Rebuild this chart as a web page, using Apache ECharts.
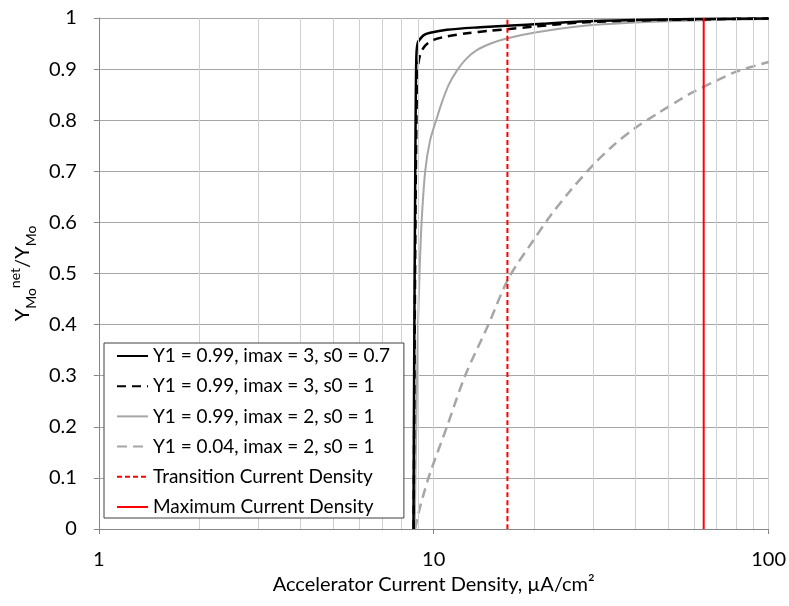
<!DOCTYPE html>
<html>
<head>
<meta charset="utf-8">
<script src="https://cdn.jsdelivr.net/npm/echarts@6/dist/echarts.min.js"></script>
<style>
html,body{margin:0;padding:0;background:#fff;}
#chart{width:789px;height:606px;}
</style>
</head>
<body>
<div id="chart"></div>
<script>
// ---- data ----
const seriesNames = [
  'Y1 = 0.99, imax = 3, s0 = 0.7',
  'Y1 = 0.99, imax = 3, s0 = 1',
  'Y1 = 0.99, imax = 2, s0 = 1',
  'Y1 = 0.04, imax = 2, s0 = 1',
  'Transition Current Density',
  'Maximum Current Density'
];
const blackSolid = [[8.70,0],[8.74,0.3],[8.79,0.6],[8.83,0.8],[8.86,0.9],[8.89,0.935],[8.95,0.95],[9.01,0.955],[9.32,0.966],[9.76,0.971],[10.95,0.977],[13.76,0.982],[16.5,0.985],[21.7,0.989],[27.3,0.993],[40,0.996],[60,0.998],[100,0.999]];
const blackDashed = [[8.71,0],[8.76,0.3],[8.82,0.6],[8.88,0.8],[8.93,0.88],[8.98,0.906],[9.12,0.929],[9.43,0.946],[9.99,0.957],[10.95,0.964],[12.56,0.970],[14.73,0.975],[16.5,0.978],[19.8,0.983],[27.3,0.991],[40,0.995],[60,0.997],[100,0.999]];
const graySolid = [[8.78,0],[8.82,0.1],[8.87,0.2],[8.92,0.3],[8.98,0.4],[9.07,0.5],[9.2,0.6],[9.43,0.7],[9.75,0.76],[10.17,0.8],[10.58,0.835],[11.1,0.87],[11.73,0.897],[12.5,0.92],[13.45,0.937],[14.8,0.95],[16.5,0.96],[20.3,0.972],[27.3,0.984],[40,0.991],[60,0.995],[100,0.998]];
const grayDashed = [[8.8,0],[9.0,0.03],[9.3,0.065],[9.76,0.11],[10.95,0.2],[12.41,0.3],[14.57,0.4],[16.71,0.49],[19.85,0.565],[22.25,0.612],[25.5,0.661],[29.9,0.712],[34.3,0.75],[40,0.785],[46.3,0.812],[54.3,0.84],[59.4,0.855],[68.2,0.874],[80,0.895],[100,0.914]];
const transitionX = 16.6;
const maximumX = 64;
const yRange = [0, 1];
const xMinorTicks = [2,3,4,5,6,7,8,9,20,30,40,50,60,70,80,90];

const FONT = 'Lato';
const FS = 20;
const chart = echarts.init(document.getElementById('chart'));

const lineSeries = (name, data, color, width, type) => ({
  name, type: 'line', data, showSymbol: false, symbol: 'none',
  smooth: 0.3, z: 2,
  lineStyle: { color, width, type }, itemStyle: { color },
  emphasis: { disabled: true }, animation: false
});

chart.setOption({
  animation: false,
  grid: { left: 98, right: 20, top: 18, bottom: 77 },
  legend: {
    data: seriesNames,
    orient: 'vertical',
    left: 104, top: 343,
    z: 10,
    padding: [2, 14, 0, 12],
    itemGap: 8.2,
    itemWidth: 31, itemHeight: 22,
    backgroundColor: '#fff',
    borderColor: '#404040', borderWidth: 1,
    itemStyle: { opacity: 0 },
    textStyle: { fontFamily: FONT, fontSize: 19, color: '#000', lineHeight: 22 },
    selectedMode: false
  },
  xAxis: {
    type: 'log', logBase: 10, min: 1, max: 100,
    axisLine: { show: true, onZero: false, lineStyle: { color: '#868686', width: 1 } },
    axisTick: { show: true, length: 5, lineStyle: { color: '#868686' } },
    axisLabel: { fontFamily: FONT, fontSize: FS, color: '#000', margin: 21 },
    splitLine: { show: true, lineStyle: { color: '#d0d0d0', width: 1 } },
    name: 'Accelerator Current Density, µA/cm²',
    nameLocation: 'middle', nameGap: 44,
    nameTextStyle: { fontFamily: FONT, fontSize: FS, color: '#000' }
  },
  yAxis: {
    type: 'value', min: yRange[0], max: yRange[1], interval: 0.1,
    axisLine: { show: true, lineStyle: { color: '#868686', width: 1 } },
    axisTick: { show: true, length: 5, lineStyle: { color: '#868686' } },
    axisLabel: { fontFamily: FONT, fontSize: FS, color: '#000', margin: 22,
      formatter: v => String(Math.round(v * 10) / 10) },
    splitLine: { show: true, lineStyle: { color: '#a6a6a6', width: 1 } },
    name: '{m|Y}{sub|Mo}{sup|net}{m|/Y}{sub|Mo}',
    nameLocation: 'middle', nameGap: 58, nameRotate: 90,
    nameTextStyle: {
      fontFamily: FONT, color: '#000',
      rich: {
        m: { fontFamily: FONT, fontSize: FS, color: '#000', lineHeight: 30, verticalAlign: 'middle' },
        sub: { fontFamily: FONT, fontSize: 14, color: '#000', lineHeight: 30, verticalAlign: 'bottom' },
        sup: { fontFamily: FONT, fontSize: 14, color: '#000', lineHeight: 30, verticalAlign: 'top' }
      }
    }
  },
  series: [
    {
      name: 'minor', type: 'line', data: [], z: 1, silent: true,
      markLine: {
        silent: true, symbol: 'none', label: { show: false }, animation: false,
        lineStyle: { color: '#d0d0d0', width: 1, type: 'solid' },
        emphasis: { disabled: true },
        data: xMinorTicks.map(v => ({ xAxis: v }))
      }
    },
    lineSeries(seriesNames[3], grayDashed, '#a6a6a6', 2.5, [10, 6]),
    lineSeries(seriesNames[2], graySolid, '#a6a6a6', 2, 'solid'),
    lineSeries(seriesNames[1], blackDashed, '#000', 2.5, [9, 6]),
    lineSeries(seriesNames[0], blackSolid, '#000', 2.5, 'solid'),
    lineSeries(seriesNames[4], [[transitionX, yRange[0]], [transitionX, yRange[1]]], '#ff0000', 2, [5, 3]),
    lineSeries(seriesNames[5], [[maximumX, yRange[0]], [maximumX, yRange[1]]], '#ff0000', 2, 'solid')
  ]
});
</script>
</body>
</html>
